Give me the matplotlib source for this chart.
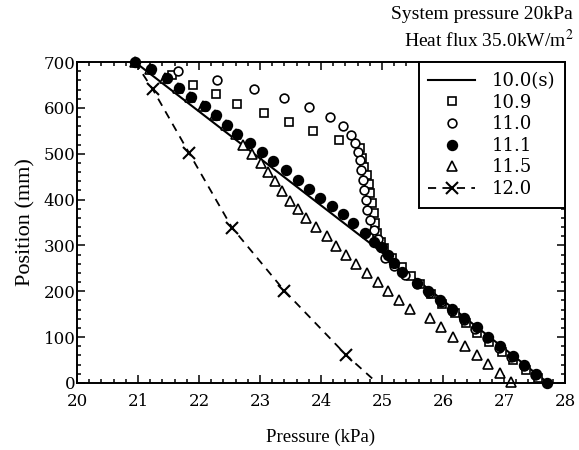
import matplotlib
matplotlib.use("Agg")
import matplotlib.pyplot as plt
from matplotlib.ticker import MultipleLocator

plt.rcParams['font.family'] = ['Liberation Serif', 'DejaVu Serif']
plt.rcParams['mathtext.fontset'] = 'stix'

# steady state (solid line)
p_100 = [20.95, 24.90, 27.72]
z_100 = [700, 295, 0]

# 10.9 s (open squares)
p_109 = [21.55, 21.90, 22.28, 22.63, 23.06, 23.47, 23.87, 24.29, 24.64, 24.67,
         24.70, 24.76, 24.78, 24.81, 24.84, 24.87, 24.89, 24.92, 24.98, 25.03,
         25.17, 25.32, 25.47, 25.62, 25.80, 25.99, 26.19, 26.38, 26.56, 26.76,
         26.96, 27.15, 27.36, 27.55]
z_109 = [672, 650, 630, 608, 588, 570, 550, 530, 512, 490,
         472, 454, 435, 414, 392, 370, 348, 328, 308, 294,
         272, 252, 233, 215, 193, 172, 152, 131, 110, 89,
         68, 49, 28, 10]

# 11.0 s (open circles)
p_110 = [21.66, 22.30, 22.90, 23.40, 23.81, 24.14, 24.36, 24.49, 24.56, 24.60,
         24.64, 24.66, 24.69, 24.71, 24.73, 24.76, 24.81, 24.87, 24.93, 25.00,
         25.05, 25.20, 25.38, 25.58, 25.77, 25.96, 26.15, 26.34, 26.53, 26.72,
         26.92, 27.12, 27.32, 27.50]
z_110 = [681, 662, 641, 621, 601, 581, 560, 541, 523, 504,
         486, 464, 443, 421, 399, 377, 355, 334, 313, 297,
         272, 255, 236, 216, 197, 177, 157, 137, 117, 97,
         77, 57, 37, 17]

# 11.1 s (filled circles)
p_111 = [20.95, 21.21, 21.47, 21.67, 21.87, 22.09, 22.28, 22.46, 22.63, 22.84,
         23.03, 23.21, 23.43, 23.62, 23.81, 23.98, 24.18, 24.36, 24.53, 24.72,
         24.87, 24.98, 25.09, 25.19, 25.33, 25.57, 25.76, 25.95, 26.14, 26.34,
         26.55, 26.73, 26.93, 27.14, 27.33, 27.52, 27.71]
z_111 = [700, 685, 665, 644, 624, 604, 585, 563, 544, 523,
         504, 484, 465, 443, 423, 403, 387, 368, 348, 328,
         308, 297, 279, 261, 241, 219, 201, 181, 161, 141,
         121, 101, 81, 59, 39, 20, 0]

# 11.5 s (open triangles)
p_115 = [20.95, 21.19, 21.45, 21.65, 21.85, 22.07, 22.26, 22.44, 22.61, 22.72,
         22.86, 23.01, 23.13, 23.25, 23.36, 23.49, 23.62, 23.76, 23.91, 24.09,
         24.25, 24.41, 24.58, 24.76, 24.94, 25.10, 25.28, 25.46, 25.79, 25.97,
         26.17, 26.36, 26.55, 26.74, 26.93, 27.12]
z_115 = [700, 685, 665, 644, 624, 604, 585, 563, 544, 520,
         499, 480, 461, 441, 419, 398, 379, 359, 341, 320,
         299, 279, 259, 239, 221, 201, 181, 161, 141, 121,
         101, 81, 61, 41, 21, 1]

# 12.0 s (dashed line with crosses)
p_120 = [20.95, 21.24, 21.84, 22.54, 23.40, 24.41, 24.92]
z_120 = [700, 641, 501, 339, 201, 61, 0]

fig = plt.figure(figsize=(5.79, 4.5), dpi=100)
ax = fig.add_axes([0.133, 0.149, 0.843, 0.713])

ms = 6.3
ax.plot(p_100, z_100, '-', color='black', lw=1.5, label='10.0(s)')
ax.plot(p_109, z_109, 's', ls='none', mfc='white', mec='black', mew=1.2, ms=ms - 0.4,
        label='10.9', clip_on=False)
ax.plot(p_110, z_110, 'o', ls='none', mfc='white', mec='black', mew=1.2, ms=ms,
        label='11.0', clip_on=False)
ax.plot(p_111, z_111, 'o', ls='none', mfc='black', mec='black', ms=ms + 0.9,
        label='11.1', clip_on=False, zorder=3)
ax.plot(p_115, z_115, '^', ls='none', mfc='white', mec='black', mew=1.2, ms=ms + 0.6,
        label='11.5', clip_on=False)
ax.plot(p_120, z_120, color='black', lw=1.3, dashes=(4.5, 3.5), marker='x', ms=8.5, mew=1.5,
        markevery=[1, 2, 3, 4, 5], label='12.0')

ax.set_xlim(20, 28)
ax.set_ylim(0, 700)
ax.xaxis.set_major_locator(MultipleLocator(1))
ax.xaxis.set_minor_locator(MultipleLocator(0.2))
ax.yaxis.set_major_locator(MultipleLocator(100))
ax.yaxis.set_minor_locator(MultipleLocator(20))
ax.tick_params(which='both', direction='in', top=True, right=True, width=1.1)
ax.tick_params(which='major', length=6)
ax.tick_params(which='minor', length=3)
ax.tick_params(axis='x', which='major', pad=7)
ax.tick_params(axis='y', which='major', pad=1)
for lab in ax.get_xticklabels() + ax.get_yticklabels():
    lab.set_family('DejaVu Serif')
    lab.set_fontsize(12)
for s in ax.spines.values():
    s.set_linewidth(1.4)

ax.set_xlabel('Pressure (kPa)', fontsize=13.5, labelpad=14)
ax.set_ylabel('Position (mm)', fontsize=16, labelpad=6)

leg = ax.legend(loc='upper right', numpoints=1, handlelength=2.6,
                prop={'family': 'DejaVu Serif', 'size': 13},
                borderaxespad=0, fancybox=False, frameon=True, labelspacing=0.2,
                borderpad=0.55, handletextpad=0.9)
leg.get_frame().set_edgecolor('black')
leg.get_frame().set_linewidth(1.4)
leg.get_frame().set_alpha(1)
leg.set_zorder(5)

fig.text(0.99, 0.967, 'System pressure 20kPa', ha='right', va='center', fontsize=14)
fig.text(0.99, 0.911, 'Heat flux 35.0kW/m$^2$', ha='right', va='center', fontsize=14)

fig.savefig('out.png', dpi=100)
